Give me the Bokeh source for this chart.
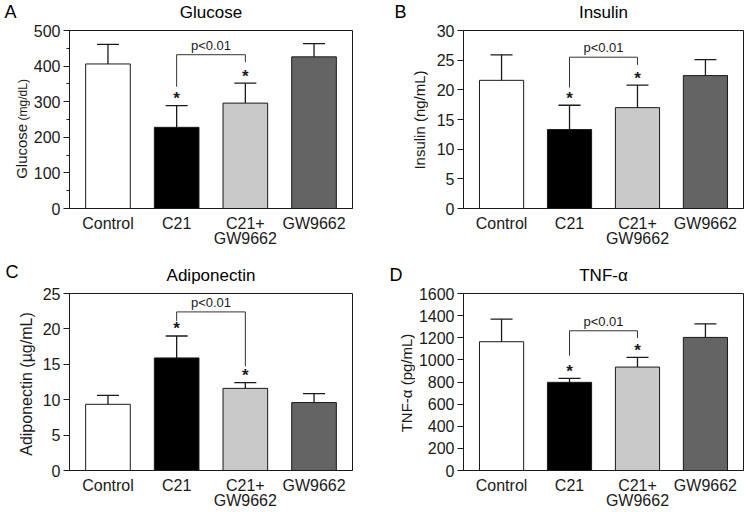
import math
from bokeh.plotting import figure
from bokeh.layouts import row, column
from bokeh.models import Range1d, FixedTicker, ColumnDataSource, Whisker, TeeHead
from bokeh.core.properties import value
from bokeh.embed import file_html
from bokeh.resources import INLINE

# ---------------- data ----------------
groups = ["Control", "C21", "C21+\nGW9662", "GW9662"]
bar_colors = ["#ffffff", "#000000", "#c9c9c9", "#646464"]

glucose_mean = [406, 228, 296, 426]
glucose_sem = [55, 61, 56, 37]
insulin_mean = [21.6, 13.3, 17.0, 22.4]
insulin_sem = [4.3, 4.1, 3.8, 2.7]
adiponectin_mean = [9.35, 15.9, 11.6, 9.6]
adiponectin_sem = [1.25, 3.1, 0.8, 1.25]
tnf_mean = [1164, 797, 935, 1203]
tnf_sem = [204, 36, 88, 123]

significant = [1, 2]          # groups marked with *
compared = [1, 2]             # groups joined by the p<0.01 bracket
p_text = "p<0.01"
# bracket: [top, left leg end, right leg end]
glucose_bracket = [432, 342, 411]
insulin_bracket = [25.5, 20.4, 24.2]
adiponectin_bracket = [22.4, 21.1, 14.7]
tnf_bracket = [1263, 1038, 1197]

glucose_ticks = [0, 100, 200, 300, 400, 500]
glucose_minor = [50, 150, 250, 350, 450]
insulin_ticks = [0, 5, 10, 15, 20, 25, 30]
adiponectin_ticks = [0, 5, 10, 15, 20, 25]
tnf_ticks = [0, 200, 400, 600, 800, 1000, 1200, 1400, 1600]

panel_letters = ["A", "B", "C", "D"]
panel_titles = ["Glucose", "Insulin", "Adiponectin", "TNF-α"]

FONT = "Liberation Sans"
INK = "#1a1a1a"
MID = 0.35   # distance (in em) from the alphabetic baseline to the text middle


def blank(width, height, bt=0, bb=0):
    """A figure used for free text; its frame spans the full width and the
    rows between bt and height-bb (pixel units, y measured up from frame bottom)."""
    f = figure(width=width, height=height, output_backend="svg",
               toolbar_location=None, tools="", x_axis_type=None, y_axis_type=None,
               x_range=Range1d(0, width), y_range=Range1d(0, height - bt - bb),
               min_border=0, min_border_left=0, min_border_right=0,
               min_border_top=bt, min_border_bottom=bb)
    f.outline_line_color = None
    f.background_fill_color = "white"
    f.border_fill_color = "white"
    return f


def header(width, height, items):
    # items: (text, x from left, baseline measured from top, align, size px)
    f = blank(width, height)
    for txt, x, y, align, size in items:
        f.text(x=[x], y=[height - (y - MID * size)], text=[txt], text_align=align,
               text_baseline="middle", text_font=value(FONT),
               text_font_size=f"{size}px", text_color="black")
    return f


def ylabel(width, height, bt, bb, items):
    # items: (text, baseline x from left, centre y from figure top, size px)
    f = blank(width, height, bt, bb)
    for txt, x, y, size in items:
        f.text(x=[x - MID * size], y=[(height - bb) - y], text=[txt],
               angle=math.pi / 2, text_align="center", text_baseline="middle",
               text_font=value(FONT), text_font_size=f"{size}px", text_color=INK)
    return f


def make_panel(mean, sem, bracket, ticks, minor, size, borders):
    W, H = size
    bl, br, bt, bb = borders
    xs = list(range(len(groups)))
    p = figure(width=W, height=H, output_backend="svg", toolbar_location=None,
               tools="", x_range=Range1d(-0.56, len(groups) - 1 + 0.56),
               y_range=Range1d(ticks[0], ticks[-1]),
               min_border_left=bl, min_border_right=br,
               min_border_top=bt, min_border_bottom=bb)
    p.xgrid.visible = False
    p.ygrid.visible = False
    p.outline_line_color = INK
    p.outline_line_width = 1
    p.background_fill_color = "white"
    p.border_fill_color = "white"

    err = [m + s for m, s in zip(mean, sem)]
    src = ColumnDataSource(dict(x=xs, top=mean, err=err, color=bar_colors))
    p.vbar(x="x", top="top", bottom=0, width=0.65, fill_color="color",
           line_color=INK, line_width=1, source=src)
    p.add_layout(Whisker(source=src, base="x", lower="top", upper="err",
                         lower_head=None,
                         upper_head=TeeHead(size=22, line_color=INK, line_width=1.3),
                         line_color=INK, line_width=1.3, level="glyph"))

    # asterisks
    p.text(x=[xs[i] for i in significant], y=[err[i] for i in significant],
           text=["*"] * len(significant), text_align="center",
           text_baseline="middle", y_offset=-7, text_font_style="bold",
           text_font=value(FONT), text_font_size="17px", text_color=INK)

    # significance bracket
    a, b = compared
    p.line(x=[xs[a], xs[a], xs[b], xs[b]],
           y=[bracket[1], bracket[0], bracket[0], bracket[2]],
           line_color="#333333", line_width=1)
    p.text(x=[(xs[a] + xs[b]) / 2], y=[bracket[0]], text=[p_text],
           text_align="center", text_baseline="middle", y_offset=-9.5,
           text_font=value(FONT), text_font_size="13px", text_color=INK)

    xa = p.xaxis[0]
    xa.ticker = FixedTicker(ticks=xs)
    xa.major_label_overrides = {i: g for i, g in zip(xs, groups)}
    xa.major_tick_line_color = None
    xa.minor_tick_line_color = None
    xa.axis_line_color = INK
    xa.major_label_standoff = 0
    xa.major_label_text_font = FONT
    xa.major_label_text_font_size = "16px"
    xa.major_label_text_line_height = 0.93
    xa.major_label_text_color = INK

    ya = p.yaxis[0]
    ya.ticker = FixedTicker(ticks=ticks, minor_ticks=minor)
    ya.axis_line_color = INK
    ya.major_tick_line_color = INK
    ya.minor_tick_line_color = INK
    ya.major_tick_out = 6
    ya.major_tick_in = 0
    ya.minor_tick_out = 3
    ya.minor_tick_in = 0
    ya.major_label_standoff = 3
    ya.major_label_text_font = FONT
    ya.major_label_text_font_size = "16px"
    ya.major_label_text_color = INK
    return p


# ---- row 1 (header 22 px, plots 240 px: borders top 8, bottom 54) ----
h1 = header(748, 22, [(panel_letters[0], 4, 18.2, "left", 18),
                      (panel_titles[0], 210.5, 18.4, "center", 17),
                      (panel_letters[1], 394, 18.2, "left", 18),
                      (panel_titles[1], 603, 18.4, "center", 17)])
ylA = ylabel(30, 240, 8, 54, [("Glucose", 26.7, 128.8, 15),
                              ("(mg/dL)", 26.2, 77.3, 12)])
pA = make_panel(glucose_mean, glucose_sem, glucose_bracket, glucose_ticks,
                glucose_minor, (342, 240), (39, 20, 8, 54))
ylB = ylabel(56, 240, 8, 54, [("Insulin (ng/mL)", 52, 97.5, 15)])
pB = make_panel(insulin_mean, insulin_sem, insulin_bracket, insulin_ticks, [],
                (320, 240), (35, 5, 8, 54))

# ---- row 2 (header 23 px, plots 227 px: borders top 8, bottom 42) ----
h2 = header(748, 23, [(panel_letters[2], 5, 15.7, "left", 18),
                      (panel_titles[2], 210.5, 19.3, "center", 17),
                      (panel_letters[3], 389, 19.1, "left", 18),
                      (panel_titles[3], 603, 19.3, "center", 17)])
ylC = ylabel(36, 227, 8, 42, [("Adiponectin (µg/mL)", 32, 98.5, 16)])
pC = make_panel(adiponectin_mean, adiponectin_sem, adiponectin_bracket,
                adiponectin_ticks, [], (336, 227), (33, 20, 8, 42))
ylD = ylabel(43, 227, 8, 42, [("TNF-α (pg/mL)", 39, 97.5, 15)])
pD = make_panel(tnf_mean, tnf_sem, tnf_bracket, tnf_ticks, [],
                (333, 227), (48, 5, 8, 42))

layout = column(h1, row(ylA, pA, ylB, pB), h2, row(ylC, pC, ylD, pD))
open("out.html", "w").write(file_html(layout, INLINE))
